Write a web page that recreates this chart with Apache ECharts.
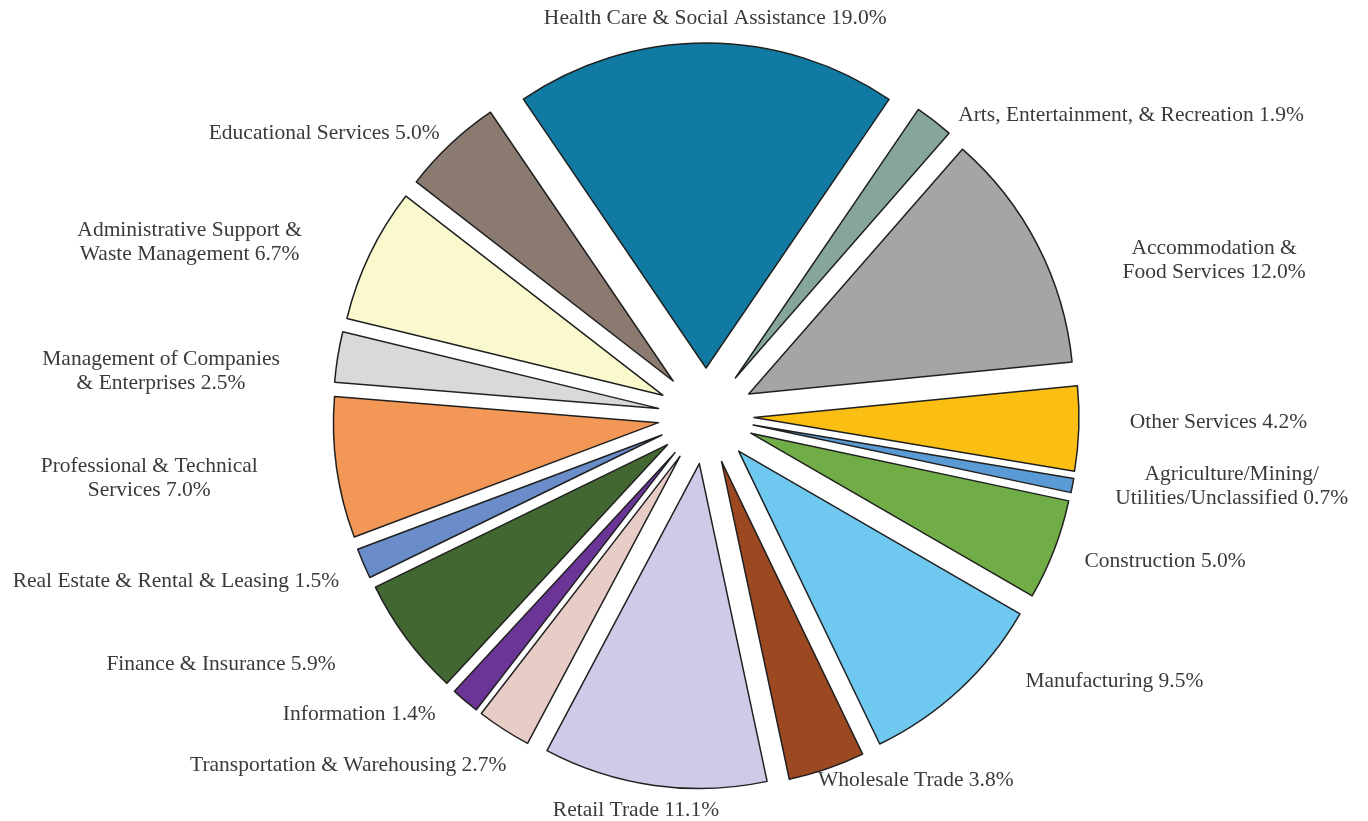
<!DOCTYPE html>
<html>
<head>
<meta charset="utf-8">
<script src="https://cdn.jsdelivr.net/npm/echarts@6/dist/echarts.min.js"></script>
<style>
html,body{margin:0;padding:0;background:#fff;}
#pie{width:1368px;height:821px;}
</style>
</head>
<body>
<div id="pie"></div>
<script>
// industry shares, clockwise from the top slice
var industries = [
    'Health Care & Social Assistance',
    'Arts, Entertainment, & Recreation',
    'Accommodation &\nFood Services',
    'Other Services',
    'Agriculture/Mining/\nUtilities/Unclassified',
    'Construction',
    'Manufacturing',
    'Wholesale Trade',
    'Retail Trade',
    'Transportation & Warehousing',
    'Information',
    'Finance & Insurance',
    'Real Estate & Rental & Leasing',
    'Professional & Technical\nServices',
    'Management of Companies\n& Enterprises',
    'Administrative Support &\nWaste Management',
    'Educational Services'
];
var shares = [19.0, 1.9, 12.0, 4.2, 0.7, 5.0, 9.5, 3.8, 11.1, 2.7, 1.4, 5.9, 1.5, 7.0, 2.5, 6.7, 5.0];
var colors = ['#107aa2', '#86a69b', '#a5a5a5', '#fbbf13', '#5b9bd5', '#70ad47', '#6ec8f0', '#9c4821',
    '#cdcbe7', '#e8cdc7', '#6b3597', '#426731', '#6a8cc9', '#f29755', '#d9d9d9', '#faf8cd', '#8b7a70'];

// label nudges [dx, dy]
var nudge = [
    [9, -3], [18, 12], [76, 31], [41, -7], [33, -6], [21, 4], [59, -24], [-12, -9], [-17, 3],
    [8, 17], [-23, -3], [-63, 13], [-15, 9], [-69, 6], [-48, 20], [-59, 3], [-4, 5]
];

var cx = 706, cy = 416, R = 325, explode = 48, gap = 10, start = 124.2;
var font = '"Liberation Serif", "Times New Roman", serif', fontSize = 21.5, lineH = 24;

var ctx = document.createElement('canvas').getContext('2d');
ctx.font = fontSize + 'px ' + font;

var total = 0, cum = [];
for (var k = 0; k < shares.length; k++) {
    cum.push(total);
    total += shares[k];
}

var pieData = [], labelData = [];
for (var i = 0; i < industries.length; i++) {
    pieData.push({
        name: industries[i],
        value: shares[i],
        selected: true,
        itemStyle: {color: colors[i]}
    });
    var text = industries[i] + ' ' + shares[i].toFixed(1) + '%';
    var lines = text.split('\n');
    var w = 0;
    lines.forEach(function (l) { w = Math.max(w, ctx.measureText(l).width); });
    var h = lines.length * lineH;
    var mid = cum[i] + shares[i] / 2;
    var a = (start - 360 * mid / total) * Math.PI / 180;
    var c = Math.cos(a), s = Math.sin(a);
    var side = c > 0.2 ? w / 2 : (c < -0.2 ? -w / 2 : 0);
    labelData.push({
        value: [1, mid],
        label: {
            formatter: text,
            offset: [side + nudge[i][0], -s * h / 2 + nudge[i][1]]
        }
    });
}

var pie = echarts.init(document.getElementById('pie'));

pie.setOption({
    animation: false,
    polar: {center: [cx, cy], radius: R + explode + gap},
    angleAxis: {type: 'value', min: 0, max: total, startAngle: start, clockwise: true, show: false},
    radiusAxis: {type: 'value', min: 0, max: 1, show: false},
    series: [{
        type: 'pie',
        center: [cx, cy],
        radius: [0, R],
        startAngle: start,
        selectedMode: 'multiple',
        selectedOffset: explode,
        itemStyle: {
            borderColor: '#202020',
            borderWidth: 1.5
        },
        emphasis: {scale: false},
        label: {show: false},
        labelLine: {show: false},
        data: pieData
    }, {
        type: 'scatter',
        coordinateSystem: 'polar',
        symbolSize: 1,
        itemStyle: {color: 'rgba(0,0,0,0)', opacity: 1},
        silent: true,
        label: {
            show: true,
            position: 'inside',
            align: 'center',
            verticalAlign: 'middle',
            fontFamily: font,
            fontSize: fontSize,
            lineHeight: lineH,
            color: '#3a3a3a'
        },
        data: labelData
    }]
});
</script>
</body>
</html>
